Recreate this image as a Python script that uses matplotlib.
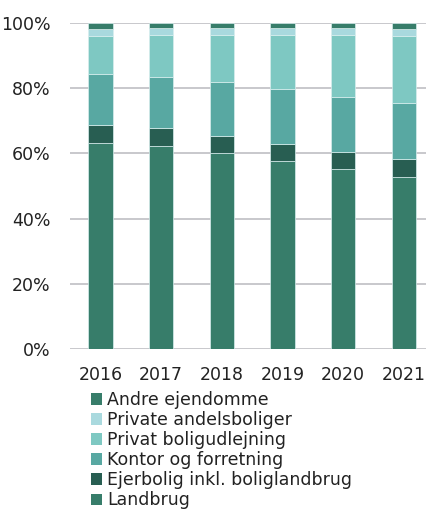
import matplotlib
import matplotlib.pyplot as plt
from matplotlib.patches import Patch

matplotlib.use('agg')

years = ['2016', '2017', '2018', '2019', '2020', '2021']
series = ['Landbrug', 'Ejerbolig inkl. boliglandbrug', 'Kontor og forretning',
          'Privat boligudlejning', 'Private andelsboliger', 'Andre ejendomme']
landbrug = [63.1, 62.2, 60.1, 57.8, 55.1, 52.7]
ejerbolig = [5.6, 5.7, 5.3, 5.2, 5.3, 5.7]
kontor = [15.7, 15.6, 16.5, 16.6, 17.0, 17.1]
privat_udlejning = [11.5, 12.6, 14.4, 16.7, 18.9, 20.5]
andelsboliger = [2.2, 2.2, 2.0, 2.1, 2.0, 2.1]
andre = [1.9, 1.7, 1.7, 1.6, 1.7, 1.9]
colors = ['#377d6a', '#285e52', '#58a8a2', '#7ec8c2', '#a9d9de', '#377d6a']

plt.rcParams['font.family'] = ['DejaVu Sans']

fig = plt.figure(figsize=(4.27, 5.09), dpi=100)
ax = fig.add_axes([0.164, 0.3136, 0.836, 0.6418])

values = [landbrug, ejerbolig, kontor, privat_udlejning, andelsboliger, andre]
x = list(range(len(years)))
bottom = [0.0] * len(years)
for vals, color in zip(values, colors):
    ax.bar(x, vals, bottom=bottom, width=0.4, color=color,
           edgecolor='#d8eeee', linewidth=0.5, zorder=3)
    bottom = [b + v for b, v in zip(bottom, vals)]

ax.set_ylim(0, 100)
ax.set_xlim(-0.5, 5.38)
ax.set_yticks([0, 20, 40, 60, 80, 100])
ax.set_yticklabels([f'{v}%' for v in range(0, 101, 20)])
ax.set_xticks(x)
ax.set_xticklabels(years)
ax.grid(axis='y', color='#bfbfc4', linewidth=1.2, zorder=0)
for s in ax.spines.values():
    s.set_visible(False)
ax.tick_params(length=0, labelsize=12.5, colors='#222222')
ax.tick_params(axis='y', pad=14)
ax.tick_params(axis='x', pad=12)

handles = [Patch(facecolor=c, edgecolor='none') for c in colors][::-1]
fig.legend(handles, series[::-1], loc='upper left',
           bbox_to_anchor=(91 / 427, 1 - 391 / 509), frameon=False,
           fontsize=12.5, handlelength=0.65, handleheight=0.65,
           handletextpad=0.3, labelspacing=0.12, borderaxespad=0,
           borderpad=0, labelcolor='#222222')

plt.savefig('out.png', dpi=100)
